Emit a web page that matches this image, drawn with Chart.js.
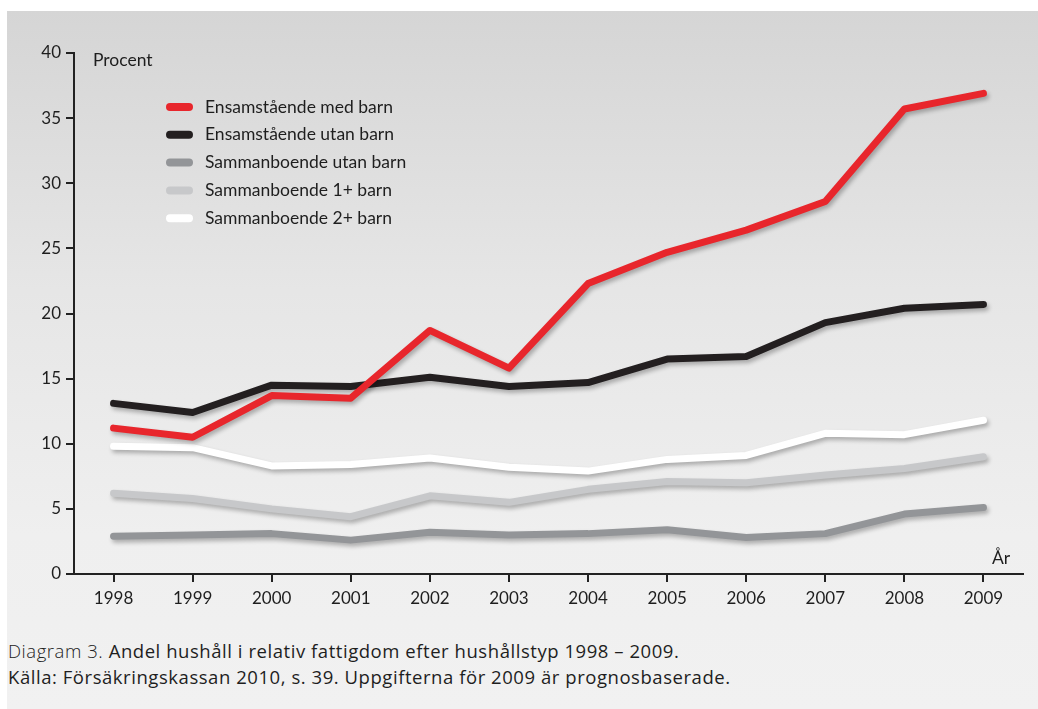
<!DOCTYPE html>
<html lang="sv">
<head>
    <meta charset="UTF-8">
    <title>Andel hushåll i relativ fattigdom</title>
    <script src="https://cdn.jsdelivr.net/npm/chart.js"></script>
    <style>
        body {
            margin: 0;
            padding: 0;
            background: #fff;
            font-family: Lato, "Open Sans", sans-serif;
        }

        .card {
            position: absolute;
            left: 7px;
            top: 11px;
            width: 1031px;
            height: 698px;
            background: linear-gradient(to bottom, #d5d5d5 0%, #e6e6e6 40%, #efefef 75%, #f1f1f1 100%);
        }

        .chart-box {
            position: absolute;
            left: 0;
            top: 0;
            width: 1038px;
            height: 625px;
        }

        .caption {
            position: absolute;
            left: 8px;
            top: 638px;
            font-family: "Open Sans", sans-serif;
            font-size: 18.5px;
            letter-spacing: 0.55px;
            line-height: 26px;
            color: #1e1e1e;
            white-space: nowrap;
        }

        .caption .light {
            font-weight: 300;
            color: #222;
        }
    </style>
</head>
<body>

    <div class="card"></div>

    <div class="chart-box">
        <canvas id="povertyChart" width="1038" height="625"></canvas>
    </div>

    <div class="caption">
        <span class="light">Diagram 3.</span> Andel hushåll i relativ fattigdom efter hushållstyp 1998 – 2009.<br>
        Källa: Försäkringskassan 2010, s. 39. Uppgifterna för 2009 är prognosbaserade.
    </div>

    <script>
        // Years on the x axis
        const years = ['1998', '1999', '2000', '2001', '2002', '2003', '2004', '2005', '2006', '2007', '2008', '2009'];

        // Series names
        const seriesNames = [
            'Ensamstående med barn',
            'Ensamstående utan barn',
            'Sammanboende utan barn',
            'Sammanboende 1+ barn',
            'Sammanboende 2+ barn'
        ];

        // Percent values
        const ensamMedBarn = [11.2, 10.5, 13.7, 13.5, 18.7, 15.8, 22.3, 24.7, 26.4, 28.6, 35.7, 36.9];
        const ensamUtanBarn = [13.1, 12.4, 14.5, 14.4, 15.1, 14.4, 14.7, 16.5, 16.7, 19.3, 20.4, 20.7];
        const sambUtanBarn = [2.9, 3.0, 3.1, 2.6, 3.2, 3.0, 3.1, 3.4, 2.8, 3.1, 4.6, 5.1];
        const samb1Barn = [6.2, 5.8, 5.0, 4.4, 6.0, 5.5, 6.5, 7.1, 7.0, 7.6, 8.1, 9.0];
        const samb2Barn = [9.8, 9.7, 8.3, 8.4, 8.9, 8.2, 7.9, 8.8, 9.1, 10.8, 10.7, 11.8];

        const seriesValues = [ensamMedBarn, ensamUtanBarn, sambUtanBarn, samb1Barn, samb2Barn];
        const seriesColors = ['#e8262c', '#231f20', '#939598', '#c7c8ca', '#ffffff'];

        const textColor = '#1e1e1e';
        const fontFamily = 'Lato, "Open Sans", sans-serif';

        // soft drop shadow under each line
        const shadowPlugin = {
            id: 'lineShadow',
            beforeDatasetDraw(chart) {
                const ctx = chart.ctx;
                ctx.save();
                ctx.shadowColor = 'rgba(0, 0, 0, 0.28)';
                ctx.shadowBlur = 4;
                ctx.shadowOffsetX = 2;
                ctx.shadowOffsetY = 3;
            },
            afterDatasetDraw(chart) {
                chart.ctx.restore();
            }
        };

        // legend inside the plot, plus the "Procent" and "År" labels
        const labelsPlugin = {
            id: 'extraLabels',
            afterDraw(chart) {
                const ctx = chart.ctx;
                ctx.save();
                ctx.font = '17.5px ' + fontFamily;
                ctx.fillStyle = textColor;
                ctx.textBaseline = 'middle';
                ctx.textAlign = 'left';
                ctx.fillText('Procent', 93, 60);
                ctx.fillText('År', 992, 558);

                chart.data.datasets.forEach(function (ds, i) {
                    const y = 107 + i * 27.8;
                    ctx.strokeStyle = ds.borderColor;
                    ctx.lineWidth = 8;
                    ctx.lineCap = 'round';
                    ctx.beginPath();
                    ctx.moveTo(170, y);
                    ctx.lineTo(189, y);
                    ctx.stroke();
                    ctx.fillStyle = textColor;
                    ctx.fillText(ds.label, 205, y);
                });
                ctx.restore();
            }
        };

        const ctx = document.getElementById('povertyChart').getContext('2d');

        const povertyChart = new Chart(ctx, {
            type: 'line',
            data: {
                labels: years,
                datasets: seriesNames.map(function (name, i) {
                    return {
                        label: name,
                        data: seriesValues[i],
                        borderColor: seriesColors[i],
                        backgroundColor: seriesColors[i],
                        borderWidth: 7,
                        borderCapStyle: 'round',
                        borderJoinStyle: 'round',
                        pointRadius: 0,
                        fill: false,
                        tension: 0
                    };
                })
            },
            options: {
                responsive: false,
                animation: false,
                layout: {
                    padding: { top: 53, right: 15, left: 0, bottom: 0 }
                },
                plugins: {
                    legend: { display: false },
                    tooltip: { enabled: false }
                },
                scales: {
                    x: {
                        offset: true,
                        afterFit: function (scale) { scale.height = 51; },
                        grid: {
                            offset: false,
                            drawOnChartArea: false,
                            drawTicks: true,
                            tickLength: 8,
                            color: '#222',
                            lineWidth: 2
                        },
                        border: { display: true, color: '#222', width: 2 },
                        ticks: {
                            color: textColor,
                            font: { family: fontFamily, size: 17 },
                            padding: 6,
                            maxRotation: 0
                        }
                    },
                    y: {
                        min: 0,
                        max: 40,
                        afterFit: function (scale) { scale.width = 74; },
                        grid: {
                            drawOnChartArea: false,
                            drawTicks: true,
                            tickLength: 8,
                            color: '#222',
                            lineWidth: 2
                        },
                        border: { display: true, color: '#222', width: 2 },
                        ticks: {
                            stepSize: 5,
                            color: textColor,
                            font: { family: fontFamily, size: 17 },
                            padding: 5
                        }
                    }
                }
            },
            plugins: [shadowPlugin, labelsPlugin]
        });
    </script>
</body>
</html>
